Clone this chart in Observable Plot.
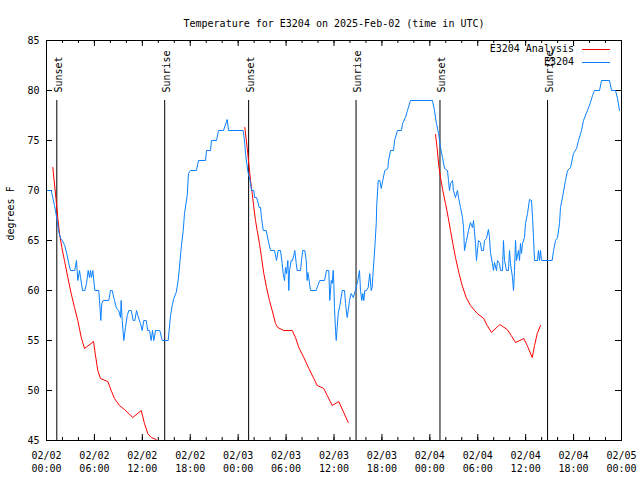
<!DOCTYPE html>
<html><head><meta charset="utf-8">
<script src="https://cdn.jsdelivr.net/npm/d3@7"></script>
<script src="https://cdn.jsdelivr.net/npm/@observablehq/plot@0.6"></script>
<style>body{margin:0;background:#fff}</style>
</head><body><div id="chart"></div>
<script>
const titleText = "Temperature for E3204 on 2025-Feb-02 (time in UTC)";
const yLabel = "degrees F";
const startUTC = "2025-02-02T00:00:00Z";
const endUTC = "2025-02-05T00:00:00Z";
const yTicks = [45, 50, 55, 60, 65, 70, 75, 80, 85];
const xTickHours = [0, 6, 12, 18, 24, 30, 36, 42, 48, 54, 60, 66, 72];
const xTickLabels = ["02/02\n00:00","02/02\n06:00","02/02\n12:00","02/02\n18:00","02/03\n00:00","02/03\n06:00","02/03\n12:00","02/03\n18:00","02/04\n00:00","02/04\n06:00","02/04\n12:00","02/04\n18:00","02/05\n00:00"];
const xMinorHours = [0,2,4,6,8,10,12,14,16,18,20,22,24,26,28,30,32,34,36,38,40,42,44,46,48,50,52,54,56,58,60,62,64,66,68,70,72];
const sunsetHours = [1.29, 25.31, 49.27];
const sunriseHours = [14.80, 38.76, 62.74];
const seriesNames = ["E3204 Analysis", "E3204"];
const seriesColors = ["#ff0000", "#0a80ff"];

// observed E3204 temperature: [hours since start, degF]
const obsSeries = [
[0.00,70],[0.59,70],[1.00,68.5],[1.34,67],[1.50,66],[1.75,65.2],[1.97,65],[2.29,64.5],[2.59,63.5],[2.79,62.7],
[3.01,62],[3.54,62],[3.76,63],[3.92,61],[4.13,62],[4.26,61.3],[4.51,60],[4.80,60],[5.01,60.7],[5.22,62],
[5.38,61.3],[5.51,62],[5.63,61.3],[5.80,62],[6.05,60],[6.55,60],[6.72,58],[6.80,57],[6.92,58.7],[7.10,59],
[7.80,59],[8.01,60],[8.23,60],[8.51,59],[8.77,58.2],[9.05,58],[9.27,57.3],[9.35,59],[9.48,57],[9.68,55],
[9.89,56.3],[10.11,57.5],[10.31,58],[10.61,58],[10.86,57],[11.06,57],[11.27,58],[11.43,57.5],[11.77,56.7],[11.98,56],
[12.18,57],[12.48,57],[12.68,56],[12.90,56],[13.11,55],[13.27,56],[13.44,55],[13.65,56],[13.99,56],[14.19,56],
[14.49,55],[15.24,55],[15.53,57.5],[15.74,58.5],[15.94,59.2],[16.24,59.8],[16.49,61],[16.69,62.7],[16.90,64.5],[17.12,66],
[17.28,67.7],[17.62,69.5],[17.78,71.7],[18.03,72],[18.78,72],[19.03,73],[19.91,73],[20.04,74],[20.54,74],[20.66,75],
[21.29,75],[21.54,76],[22.16,76],[22.63,77.1],[22.79,76],[24.63,76],[24.71,75.5],[24.83,74.7],[24.92,73.7],[25.08,72.7],
[25.26,71.7],[25.42,71.3],[25.55,70.7],[25.67,70],[25.96,70],[26.05,69.3],[26.30,69.3],[26.42,69],[26.63,68.3],[26.80,68.3],
[26.92,67.3],[27.14,66],[27.51,66],[27.76,65],[28.05,64],[28.55,64],[28.80,63],[29.01,64],[29.30,64],[29.51,62.7],
[29.64,61.7],[29.80,61],[29.93,62.3],[30.05,61.7],[30.22,63],[30.34,60],[30.43,62],[30.64,63],[30.80,63],[30.97,63.5],
[31.09,64],[31.27,62.7],[31.39,62],[31.81,62],[31.93,63],[32.09,64],[32.34,64],[32.52,63],[32.64,61],[32.72,61.8],
[32.84,61.3],[33.06,60],[33.77,60],[33.97,60.5],[34.22,61],[34.81,61],[35.06,62],[35.35,62],[35.47,59],[35.65,61],
[35.78,60.7],[35.90,62],[35.98,60.7],[36.06,58.3],[36.19,56],[36.28,55],[36.40,56.3],[36.53,57.7],[36.73,58.5],[37.03,60],
[37.32,60],[37.44,58.7],[37.65,57.3],[37.78,58],[37.94,59],[38.15,59.7],[38.41,59.3],[38.57,59.7],[38.78,60.3],[38.98,61],
[39.19,62],[39.32,60],[39.48,59],[39.61,59.7],[39.73,59],[39.86,60],[40.07,60],[40.28,60.3],[40.48,61.7],[40.66,60],
[40.78,60.3],[40.91,62],[41.00,63],[41.11,64.3],[41.29,66.7],[41.36,68.7],[41.54,71],[41.74,71],[41.91,70.2],[42.11,71],
[42.36,72],[42.74,72.2],[42.83,73],[43.08,74],[43.45,74],[43.58,75],[43.95,76],[44.45,76],[44.58,76.7],[44.95,77.3],
[45.20,78],[45.58,79],[48.33,79],[48.58,78],[48.83,76.7],[49.09,75.7],[49.34,74.3],[49.59,73.3],[49.84,72.2],[50.21,72],
[50.34,71],[50.46,70],[50.59,70.7],[50.84,71],[50.96,70],[51.21,69.3],[51.46,70],[51.59,69.3],[51.84,68.3],[52.09,67.3],
[52.22,66.3],[52.34,64],[52.59,65],[52.84,66],[53.09,66.8],[53.34,66.3],[53.47,67],[53.72,64.7],[53.84,63],[54.09,65],
[54.34,64.8],[54.47,64],[54.72,64],[54.84,65],[55.09,65.2],[55.34,66.1],[55.47,65.3],[55.59,63.8],[55.84,62.7],[55.97,62],
[56.10,62.8],[56.35,62],[56.47,63],[56.72,62.7],[56.85,62],[57.10,62],[57.22,65],[57.35,63],[57.60,62],[57.85,62],
[57.98,64],[58.10,62.7],[58.35,61.3],[58.48,60],[58.60,62],[58.73,65],[58.85,63],[59.10,64],[59.23,63],[59.35,64.7],
[59.48,63.7],[59.60,64.7],[59.85,65.3],[59.98,66.7],[60.23,67.7],[60.48,69.1],[60.73,69],[60.86,67.3],[60.98,65.3],[61.11,63],
[61.48,63],[61.61,64],[61.73,63],[61.86,64],[61.98,63],[63.32,63],[63.49,64],[63.74,65],[63.99,65.3],[64.24,66.7],
[64.36,68.3],[64.70,69.7],[64.99,71],[65.24,72],[65.62,72.3],[65.99,73.7],[66.37,74.2],[66.62,75],[66.99,76],[67.24,77],
[67.74,78],[68.12,78.8],[68.37,79.5],[68.62,80],[69.25,80],[69.50,81],[70.50,81],[70.75,80],[71.25,80],[71.50,79.2],[71.75,78]
];

// analysis series, one per evening: [hours since start, degF]
const analysisEve1 = [
[0.79,72.3],[1.21,69],[1.41,67.3],[1.63,65.7],[1.92,64.3],[2.25,63],[2.67,61.3],[3.09,59.7],[3.51,58.3],[3.92,57],
[4.35,55.3],[4.76,54.2],[5.89,54.9],[6.10,53.7],[6.42,52],[6.76,51.2],[7.68,50.9],[8.10,50],[8.51,49.2],[9.14,48.5],
[9.77,48.1],[10.81,47.3],[11.86,48],[12.27,46.7],[12.68,45.7],[13.11,45.3],[13.74,45.1],[14.02,44.8]
];
const analysisEve2 = [
[24.83,76.3],[25.13,74.3],[25.33,72.7],[25.55,71],[25.76,69.7],[25.96,68.3],[26.17,67],[26.38,66],[26.67,64.7],[26.92,63.3],
[27.21,61.7],[27.55,60.3],[27.92,59],[28.26,58],[28.68,56.7],[28.96,56.3],[29.71,56],[30.77,56],[31.18,55.3],[31.59,54.3],
[32.22,53.3],[32.85,52.2],[33.47,51.2],[33.90,50.5],[34.72,50.2],[35.15,49.5],[35.78,48.5],[36.60,48.9],[37.78,46.8]
];
const analysisEve3 = [
[48.71,75.6],[48.92,74.2],[49.12,72.5],[49.34,71.3],[49.62,70],[49.96,68.7],[50.30,67.3],[50.59,66],[50.88,64.7],[51.21,63.3],
[51.63,61.8],[52.05,60.5],[52.55,59.3],[53.09,58.5],[53.93,57.7],[54.76,57.2],[55.18,56.5],[55.72,55.8],[56.76,56.6],[57.69,56.1],
[58.19,55.5],[58.73,54.8],[59.77,55.2],[60.19,54.5],[60.82,53.3],[61.11,54.5],[61.45,55.7],[61.86,56.5]
];

const t0 = new Date(startUTC).getTime();
const toDate = h => new Date(t0 + h * 3600e3);
const obs = obsSeries.map(([h, v]) => ({time: toDate(h), temp: v}));
const ana = [analysisEve1, analysisEve2, analysisEve3].flatMap((arr, i) =>
  arr.map(([h, v]) => ({time: toDate(h), temp: v, eve: i})));
const sunEvents = [
  ...sunsetHours.map(h => ({time: toDate(h), label: "Sunset"})),
  ...sunriseHours.map(h => ({time: toDate(h), label: "Sunrise"}))
];
const xMajor = xTickHours.map(toDate);
const xMinor = xMinorHours.map(toDate);
const labelOf = new Map(xTickHours.map((h, i) => [toDate(h).getTime(), xTickLabels[i]]));

const FONT = "DejaVu Sans Mono, Liberation Mono, monospace";

function legend(index, scales, values, dims) {
  const g = d3.create("svg:g").attr("font-family", FONT).attr("font-size", 10);
  const right = dims.width - dims.marginRight;
  seriesNames.forEach((name, i) => {
    const y = dims.marginTop + 9 + i * 13;
    g.append("text").attr("x", right - 47).attr("y", y).attr("dy", "0.32em")
      .attr("text-anchor", "end").attr("fill", "black").text(name);
    g.append("line").attr("x1", right - 39).attr("x2", right - 11)
      .attr("y1", y + 0.5).attr("y2", y + 0.5).attr("stroke", seriesColors[i]).attr("stroke-width", 1);
  });
  return g.node();
}

const chart = Plot.plot({
  width: 640,
  height: 480,
  marginLeft: 46,
  marginRight: 19,
  marginTop: 40,
  marginBottom: 40,
  style: {fontFamily: FONT, fontSize: "10px", background: "white", color: "black"},
  x: {type: "utc", domain: [new Date(startUTC), new Date(endUTC)]},
  y: {domain: [45, 85]},
  marks: [
    Plot.axisX(xMajor, {tickSize: 0, tickPadding: 9, tickFormat: d => labelOf.get(d.getTime()), lineHeight: 1.3, label: null, fontSize: 10}),
    Plot.axisY(yTicks, {tickSize: 0, tickPadding: 7, label: null, fontSize: 10}),
    Plot.tickX(xMinor, {x: d => d, insetTop: 397, stroke: "black"}),
    Plot.tickX(xMinor, {x: d => d, insetBottom: 397, stroke: "black"}),
    Plot.tickX(xMajor, {x: d => d, insetTop: 394, stroke: "black"}),
    Plot.tickX(xMajor, {x: d => d, insetBottom: 394, stroke: "black"}),
    Plot.tickY(yTicks, {y: d => d, insetRight: 569, stroke: "black"}),
    Plot.tickY(yTicks, {y: d => d, insetLeft: 569, stroke: "black"}),
    Plot.ruleX(sunEvents, {x: "time", insetTop: 60, stroke: "black", strokeWidth: 1}),
    Plot.text(sunEvents, {x: "time", text: "label", frameAnchor: "top", dy: 52, dx: -2, rotate: -90, textAnchor: "start", fill: "black"}),
    Plot.line(ana, {x: "time", y: "temp", z: "eve", stroke: seriesColors[0], strokeWidth: 1, clip: true}),
    Plot.line(obs, {x: "time", y: "temp", stroke: seriesColors[1], strokeWidth: 1, clip: true}),
    Plot.frame({stroke: "black"}),
    Plot.text([titleText], {frameAnchor: "top", dy: -21, text: d => d, fill: "black"}),
    Plot.text([yLabel], {frameAnchor: "left", dx: -36, rotate: -90, text: d => d, fill: "black"}),
    legend
  ]
});
document.getElementById("chart").append(chart);
</script>
</body></html>
